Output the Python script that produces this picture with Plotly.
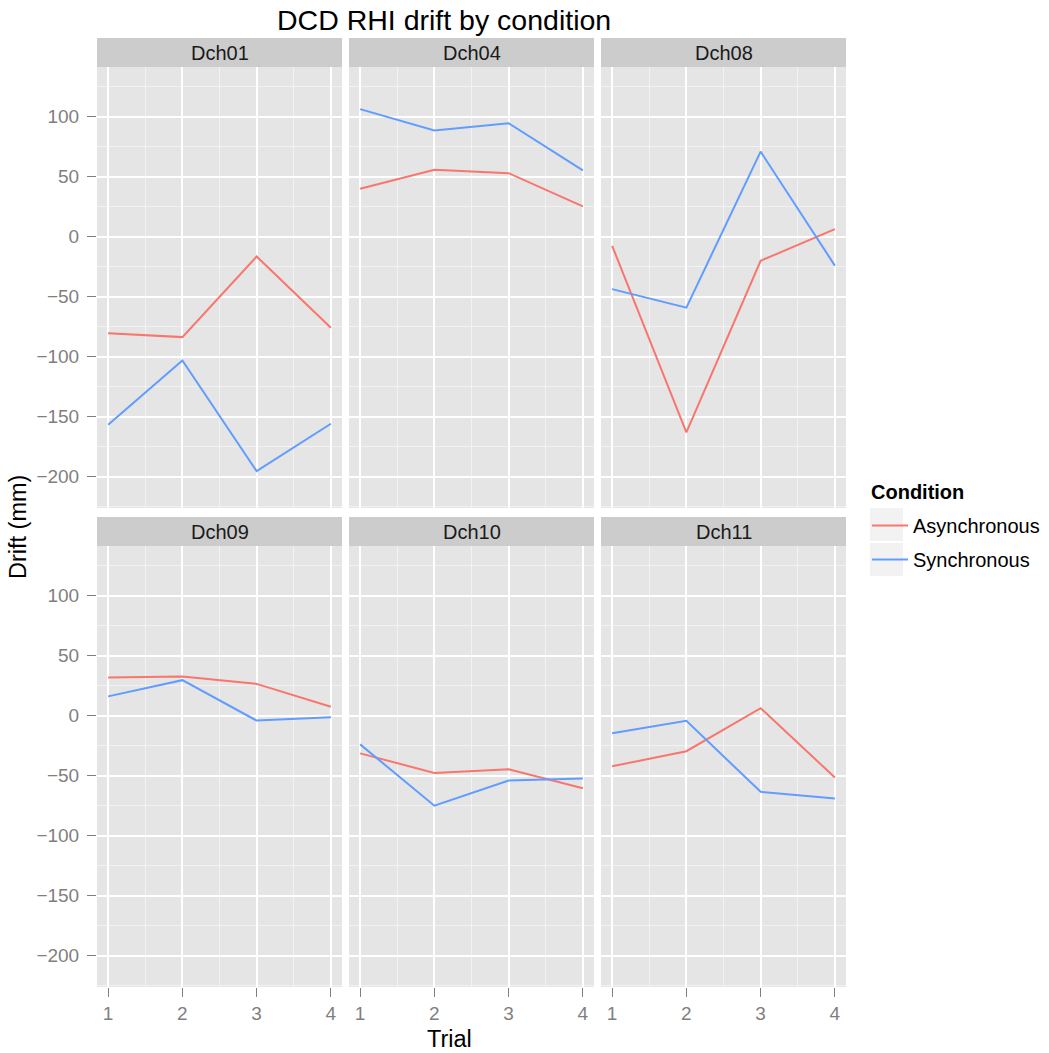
import plotly.graph_objects as go

W, H = 1049, 1053

# ---------------- data ----------------
panels = ["Dch01", "Dch04", "Dch08", "Dch09", "Dch10", "Dch11"]
trials = [1, 2, 3, 4]
conditions = ["Asynchronous", "Synchronous"]

dch01_async = [-80.3, -83.6, -16.4, -75.8]
dch01_sync = [-156.7, -103.0, -195.3, -155.8]
dch04_async = [40.0, 55.8, 53.0, 25.3]
dch04_sync = [106.4, 88.6, 94.7, 55.3]
dch08_async = [-7.5, -163.0, -20.0, 6.4]
dch08_sync = [-43.6, -59.0, 71.0, -24.0]
dch09_async = [32.0, 32.8, 26.6, 7.6]
dch09_sync = [16.2, 29.7, -4.0, -1.2]
dch10_async = [-31.3, -47.6, -44.5, -60.4]
dch10_sync = [-23.8, -74.9, -54.0, -52.3]
dch11_async = [-42.1, -29.5, 6.4, -51.4]
dch11_sync = [-14.6, -4.2, -63.3, -69.0]

async_series = [dch01_async, dch04_async, dch08_async, dch09_async, dch10_async, dch11_async]
sync_series = [dch01_sync, dch04_sync, dch08_sync, dch09_sync, dch10_sync, dch11_sync]

y_ticks = [-200, -150, -100, -50, 0, 50, 100]
x_ticks = [1, 2, 3, 4]

# ---------------- style ----------------
colors = {"Asynchronous": "#F8766D", "Synchronous": "#619CFF"}
FONT = "Liberation Sans, Arial, Helvetica, sans-serif"
col_px = [(97, 342), (349, 594), (601, 846)]
row_px = [(67, 508), (546, 987)]
strip_px = [(38, 67), (517, 546)]
legend_key_px = [(508, 541), (543, 576)]
x_range = [0.85, 4.15]
y_range = [-226.0, 141.5]


def px_x(v):
    return v / W


def px_y(v):
    return 1 - v / H


fig = go.Figure()
layout = {}
shapes = []
annotations = []

for i, name in enumerate(panels):
    r, c = divmod(i, 3)
    idx = i + 1
    xa = "x" if idx == 1 else f"x{idx}"
    ya = "y" if idx == 1 else f"y{idx}"
    for cond, series in (("Asynchronous", async_series), ("Synchronous", sync_series)):
        fig.add_trace(go.Scatter(
            x=trials, y=series[i], mode="lines", name=cond,
            line=dict(color=colors[cond], width=2),
            xaxis=xa, yaxis=ya, showlegend=(i == 0), legendgroup=cond,
            hoverinfo="x+y+name",
        ))
    x0, x1 = col_px[c]
    y0, y1 = row_px[r]
    layout["xaxis" if idx == 1 else f"xaxis{idx}"] = dict(
        domain=[px_x(x0), px_x(x1)], anchor=ya, range=x_range,
        tickvals=x_ticks, showticklabels=(r == 1),
        ticks="outside" if r == 1 else "", ticklen=9, tickwidth=1.3, tickcolor="#7F7F7F",
        tickfont=dict(size=19, color="#7F7F7F", family=FONT),
        showgrid=True, gridcolor="#FFFFFF", gridwidth=1.6,
        minor=dict(tick0=0.5, dtick=1, showgrid=True, gridcolor="#F2F2F2", gridwidth=0.8, ticks=""),
        zeroline=False, showline=False, fixedrange=True,
    )
    layout["yaxis" if idx == 1 else f"yaxis{idx}"] = dict(
        domain=[px_y(y1), px_y(y0)], anchor=xa, range=y_range,
        tickvals=y_ticks, showticklabels=(c == 0),
        ticks="outside" if c == 0 else "", ticklen=9, tickwidth=1.3, tickcolor="#7F7F7F",
        tickfont=dict(size=19, color="#7F7F7F", family=FONT),
        ticklabelstandoff=4,
        showgrid=True, gridcolor="#FFFFFF", gridwidth=1.6,
        minor=dict(tick0=25, dtick=50, showgrid=True, gridcolor="#F2F2F2", gridwidth=0.8, ticks=""),
        zeroline=False, showline=False, fixedrange=True,
    )
    # panel background
    shapes.append(dict(type="rect", xref="paper", yref="paper", layer="below",
                       x0=px_x(x0), x1=px_x(x1), y0=px_y(y1), y1=px_y(y0),
                       fillcolor="#E5E5E5", line=dict(width=0)))
    # strip
    s0, s1 = strip_px[r]
    shapes.append(dict(type="rect", xref="paper", yref="paper", layer="below",
                       x0=px_x(x0), x1=px_x(x1), y0=px_y(s1), y1=px_y(s0),
                       fillcolor="#CCCCCC", line=dict(width=0)))
    annotations.append(dict(text=name, xref="paper", yref="paper",
                            x=px_x((x0 + x1) / 2), y=px_y((s0 + s1) / 2),
                            xanchor="center", yanchor="middle", showarrow=False,
                            font=dict(size=20, color="#1A1A1A", family=FONT)))

# legend key backgrounds
for k0, k1 in legend_key_px:
    shapes.append(dict(type="rect", xref="paper", yref="paper", layer="below",
                       x0=px_x(870), x1=px_x(903), y0=px_y(k1), y1=px_y(k0),
                       fillcolor="#F2F2F2", line=dict(width=0)))

# titles
annotations.append(dict(text="DCD RHI drift by condition", xref="paper", yref="paper",
                        x=px_x(444), y=px_y(20), xanchor="center", yanchor="middle",
                        showarrow=False, font=dict(size=28.5, color="#000000", family=FONT)))
annotations.append(dict(text="Trial", xref="paper", yref="paper",
                        x=px_x(449), y=px_y(1039), xanchor="center", yanchor="middle",
                        showarrow=False, font=dict(size=23.5, color="#000000", family=FONT)))
annotations.append(dict(text="Drift (mm)", xref="paper", yref="paper",
                        x=px_x(18), y=px_y(527), xanchor="center", yanchor="middle",
                        textangle=-90, showarrow=False,
                        font=dict(size=23.5, color="#000000", family=FONT)))
# legend title
annotations.append(dict(text="<b>Condition</b>", xref="paper", yref="paper",
                        x=px_x(869), y=px_y(492), xanchor="left", yanchor="middle",
                        showarrow=False, font=dict(size=20, color="#000000", family=FONT)))

fig.update_layout(
    width=W, height=H,
    margin=dict(l=0, r=0, t=0, b=0),
    paper_bgcolor="#FFFFFF", plot_bgcolor="rgba(0,0,0,0)",
    shapes=shapes, annotations=annotations,
    showlegend=True,
    legend=dict(
        font=dict(size=20, color="#000000", family=FONT),
        x=px_x(867), y=px_y(506), xanchor="left", yanchor="top",
        bgcolor="rgba(0,0,0,0)", tracegroupgap=5, itemwidth=36,
    ),
    **layout,
)

fig.write_html("out.html", config={"displayModeBar": False},
               post_script="document.body.style.margin='0px';document.body.style.overflow='hidden';")
